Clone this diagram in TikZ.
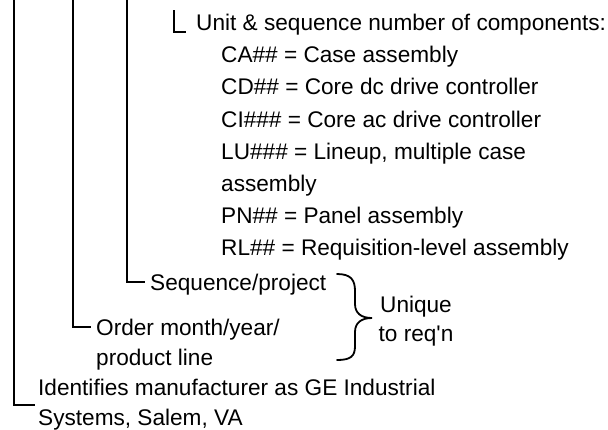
\documentclass[tikz,border=0pt]{standalone}
\usepackage{fontspec}
\setmainfont{Liberation Sans}[Ligatures=TeXOff]
\begin{document}
\begin{tikzpicture}[x=1bp,y=-1bp,
  lbl/.style={anchor=base west,inner sep=0pt,font=\fontsize{22.7}{27}\selectfont},
  ctr/.style={anchor=base,inner sep=0pt,font=\fontsize{22.7}{27}\selectfont},
  conn/.style={line width=1.8bp,line cap=butt,line join=miter},
  brc/.style={line width=1.8bp,line cap=round}]
\useasboundingbox (0,0) rectangle (608,429);
% texts
\node[lbl] (unit) at (196,30) {Unit \& sequence number of components:};
\node[lbl] (ca) at (221,62) {CA\#\# = Case assembly};
\node[lbl] (cd) at (221,94) {CD\#\# = Core dc drive controller};
\node[lbl] (ci) at (221,127) {CI\#\#\# = Core ac drive controller};
\node[lbl] (lu) at (221,159) {LU\#\#\# = Lineup, multiple case};
\node[lbl] (lu2) at (221,191) {assembly};
\node[lbl] (pn) at (221,223) {PN\#\# = Panel assembly};
\node[lbl] (rl) at (221,255) {RL\#\# = Requisition-level assembly};
\node[lbl] (seq) at (150,290) {Sequence/project};
\node[lbl] (ord) at (96,335) {Order month/year/};
\node[lbl] (ord2) at (96,365) {product line};
\node[lbl] (ident) at (38,395) {Identifies manufacturer as GE Industrial};
\node[lbl] (ident2) at (38,425) {Systems, Salem, VA};
\node[ctr] (uniq) at (416,312) {Unique};
\node[ctr] (uniq2) at (416,341) {to req'n};
% connector coordinates
\coordinate (t1) at (14,0);
\coordinate (e1) at (35,405);
\coordinate (t2) at (73,0);
\coordinate (e2) at (91,327);
\coordinate (t3) at (127,0);
\coordinate (e3) at (145,282);
\coordinate (t4) at (174,10);
\coordinate (e4) at (186,32);
\draw[conn] (t1) |- (e1);
\draw[conn] (t2) |- (e2);
\draw[conn] (t3) |- (e3);
\draw[conn] (t4) |- (e4);
% brace
\draw[brc] (337,274) .. controls (351,274) and (355,280) .. (355,291)
  -- (355,304) .. controls (355,313) and (361,318) .. (372,318)
  .. controls (361,318) and (355,323) .. (355,332)
  -- (355,346) .. controls (355,356) and (351,360) .. (337,360);
\end{tikzpicture}
\end{document}
